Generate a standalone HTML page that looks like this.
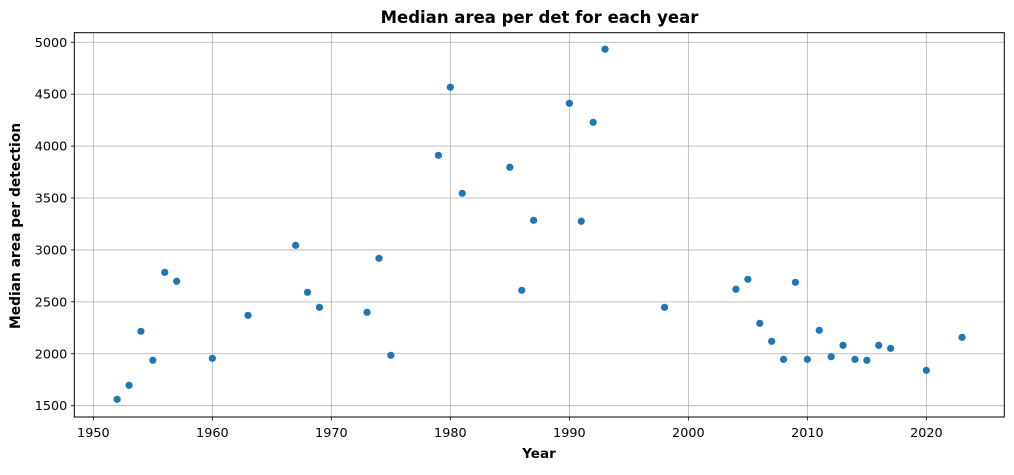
<!DOCTYPE html>
<html><head><meta charset="utf-8"><style>
body{margin:0;background:#fff;font-family:"Liberation Sans","DejaVu Sans",sans-serif;}
svg text{font-family:"DejaVu Sans","Liberation Sans",sans-serif;}
</style></head><body>
<svg id="chart" width="1014" height="470" xmlns="http://www.w3.org/2000/svg">
<rect width="1014" height="470" fill="#fff"/>
<text x="539.5" y="23" text-anchor="middle" font-size="16.5" font-weight="bold">Median area per det for each year</text>
<g id="grid"></g><g id="ticks"></g><g id="points"></g>
<rect x="74.3" y="32.7" width="930" height="384.3" fill="none" stroke="#000" stroke-width="1"/>
<text x="539" y="458" text-anchor="middle" font-size="13.5" font-weight="bold">Year</text>
<text transform="translate(20,226) rotate(-90)" text-anchor="middle" font-size="13.8" font-weight="bold">Median area per detection</text>
</svg>
<script>
const years=[1952,1953,1954,1955,1956,1957,1960,1963,1967,1968,1969,1973,1974,1975,1979,1980,1981,1985,1986,1987,1990,1991,1992,1993,1998,2004,2005,2006,2007,2008,2009,2010,2011,2012,2013,2014,2015,2016,2017,2020,2023];
const medians=[1561,1696,2216,1937,2784,2698,1956,2370,3044,2592,2447,2399,2919,1985,3911,4567,3545,3796,2611,3285,4412,3276,4229,4933,2447,2621,2717,2293,2120,1946,2688,1946,2226,1972,2081,1946,1937,2081,2052,1840,2158];
const xTicks=[1950,1960,1970,1980,1990,2000,2010,2020];
const yTicks=[1500,2000,2500,3000,3500,4000,4500,5000];
const L=74.3,R=1004.3,T=32.7,B=417;
const xMin=1948.4,xMax=2026.55,yMin=1391,yMax=5092;
const sx=v=>L+(v-xMin)/(xMax-xMin)*(R-L);
const sy=v=>B-(v-yMin)/(yMax-yMin)*(B-T);
const NS="http://www.w3.org/2000/svg";
const grid=document.getElementById('grid'),ticks=document.getElementById('ticks'),pts=document.getElementById('points');
function mk(tag,attrs,parent){const e=document.createElementNS(NS,tag);for(const k in attrs)e.setAttribute(k,attrs[k]);parent.appendChild(e);return e;}
xTicks.forEach(t=>{const x=sx(t);
 const g=mk('line',{x1:x,x2:x,y1:T,y2:B,stroke:'#b0b0b0','stroke-width':0.8},grid);
 
 
 mk('line',{x1:x,x2:x,y1:B,y2:B+3.5,stroke:'#000','stroke-width':0.8},ticks);
 const tx=mk('text',{x:x,y:B+20,'text-anchor':'middle','font-size':12.8},ticks);tx.textContent=t;
 
 
});
yTicks.forEach(t=>{const y=sy(t);
 const g=mk('line',{x1:L,x2:R,y1:y,y2:y,stroke:'#b0b0b0','stroke-width':0.8},grid);
 
 
 mk('line',{x1:L-3.5,x2:L,y1:y,y2:y,stroke:'#000','stroke-width':0.8},ticks);
 const tx=mk('text',{x:L-7,y:y+4.5,'text-anchor':'end','font-size':12.8},ticks);tx.textContent=t;
 
 
});
years.forEach((yr,i)=>{
 const c=mk('circle',{cx:sx(yr),cy:sy(medians[i]),r:3.6,fill:'#1f77b4'},pts);
 
 
});
</script>
</body></html>
